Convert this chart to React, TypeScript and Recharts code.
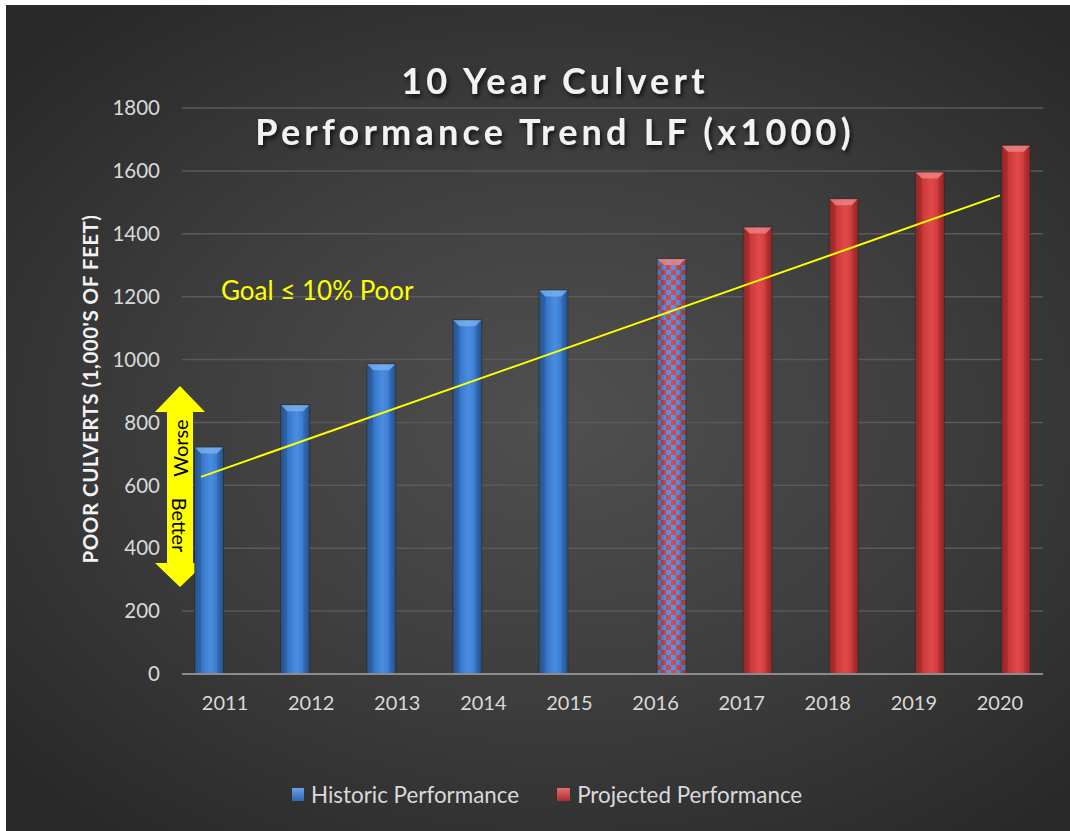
import React from 'react';
import { ComposedChart, Bar, Line, XAxis, YAxis, CartesianGrid, Legend, Customized } from 'recharts';

const years = ['2011', '2012', '2013', '2014', '2015', '2016', '2017', '2018', '2019', '2020'];
const historic = [720, 855, 985, 1125, 1220, null, null, null, null, null];
const projected = [null, null, null, null, null, 1320, 1420, 1510, 1595, 1680];
const yTicks = [0, 200, 400, 600, 800, 1000, 1200, 1400, 1600, 1800];
const trendX = [0.22, 9.5];
const trendY = [627, 1522];
const checkeredYear = '2016';

const data = years.map((y, i) => ({ year: y, historic: historic[i], projected: projected[i] }));
const trendData = trendX.map((x, i) => ({ tx: x, ty: trendY[i] }));

const FONT = 'Lato, "Open Sans", sans-serif';

const palette: Record<string, { edge: string; mid: string; light: string; bevel: string }> = {
  blue: { edge: '#2a5c9e', mid: '#3a7bd0', light: '#4a8ee0', bevel: '#7fb4f0' },
  red: { edge: '#a52a2a', mid: '#d23b3b', light: '#e04a4a', bevel: '#f08a8a' },
};

const BarShape = (props: any) => {
  const { x, y, width, height, payload, kind } = props;
  if (!height || height <= 0) return null;
  const id = kind === 'historic' ? 'gBlue' : 'gRed';
  const p = kind === 'historic' ? palette.blue : palette.red;
  const checker = kind === 'projected' && payload && payload.year === checkeredYear;
  const b = Math.min(6, width / 4);
  return (
    <g>
      <rect x={x - 1} y={y - 1} width={width + 2} height={height + 1} fill="#2a2a2a" opacity={0.6} />
      <rect x={x} y={y} width={width} height={height} fill={checker ? 'url(#checker)' : `url(#${id})`} />
      {checker && <rect x={x} y={y} width={width} height={height} fill="url(#gShade)" />}
      <polygon points={`${x},${y} ${x + width},${y} ${x + width - b},${y + b} ${x + b},${y + b}`} fill={p.bevel} opacity={0.75} />
      <polygon points={`${x},${y} ${x + b},${y + b} ${x + b},${y + height} ${x},${y + height}`} fill="#000" opacity={0.1} />
      <polygon points={`${x + width},${y} ${x + width - b},${y + b} ${x + width - b},${y + height} ${x + width},${y + height}`} fill="#000" opacity={0.1} />
    </g>
  );
};

const Defs = () => (
  <defs>
    <linearGradient id="gBlue" x1="0" y1="0" x2="1" y2="0">
      <stop offset="0%" stopColor={palette.blue.edge} />
      <stop offset="30%" stopColor={palette.blue.mid} />
      <stop offset="55%" stopColor={palette.blue.light} />
      <stop offset="80%" stopColor={palette.blue.mid} />
      <stop offset="100%" stopColor={palette.blue.edge} />
    </linearGradient>
    <linearGradient id="gRed" x1="0" y1="0" x2="1" y2="0">
      <stop offset="0%" stopColor={palette.red.edge} />
      <stop offset="30%" stopColor={palette.red.mid} />
      <stop offset="55%" stopColor={palette.red.light} />
      <stop offset="80%" stopColor={palette.red.mid} />
      <stop offset="100%" stopColor={palette.red.edge} />
    </linearGradient>
    <linearGradient id="gShade" x1="0" y1="0" x2="1" y2="0">
      <stop offset="0%" stopColor="#000" stopOpacity={0.12} />
      <stop offset="50%" stopColor="#000" stopOpacity={0} />
      <stop offset="100%" stopColor="#000" stopOpacity={0.12} />
    </linearGradient>
    <pattern id="checker" x="0" y="0" width="10" height="10" patternUnits="userSpaceOnUse">
      <rect width="10" height="10" fill="#5696ee" />
      <rect width="5" height="5" fill="#d44a4a" />
      <rect x="5" y="5" width="5" height="5" fill="#d44a4a" />
    </pattern>
    <filter id="shadow" x="-10%" y="-30%" width="120%" height="160%">
      <feDropShadow dx="2" dy="3" stdDeviation="2" floodColor="#000" floodOpacity="0.7" />
    </filter>
  </defs>
);

const Annotations = () => (
  <g style={{ fontFamily: FONT }}>
    <text x={549} y={89} textAnchor="middle" fill="#f2f2f2" fontSize={36} fontWeight={700} letterSpacing={4.2} filter="url(#shadow)">
      10 Year Culvert
    </text>
    <text x={549} y={140} textAnchor="middle" fill="#f2f2f2" fontSize={36} fontWeight={700} letterSpacing={4.2} filter="url(#shadow)">
      Performance Trend LF (x1000)
    </text>
    <text x={215} y={295} fill="#ffff00" fontSize={26}>
      Goal ≤ 10% Poor
    </text>
    <text
      x={84}
      y={384}
      transform="rotate(-90 84 384)"
      textAnchor="middle"
      dominantBaseline="central"
      fill="#f2f2f2"
      fontSize={20.5}
      fontWeight={700}
      letterSpacing={0.5}
    >
      POOR CULVERTS (1,000'S OF FEET)
    </text>
    <polygon
      points="174,381 199,407 187,407 187,558 199,558 174,582 149,558 161,558 161,407 149,407"
      fill="#ffff00"
    />
    <text x={174} y={443} transform="rotate(-90 174 443)" textAnchor="middle" dominantBaseline="central" fill="#000" fontSize={20}>
      Worse
    </text>
    <text x={174} y={520} transform="rotate(90 174 520)" textAnchor="middle" dominantBaseline="central" fill="#000" fontSize={20}>
      Better
    </text>
  </g>
);

const LegendContent = () => (
  <div style={{ display: 'flex', alignItems: 'center', fontFamily: FONT, fontSize: 22.4, color: '#d9d9d9', whiteSpace: 'nowrap' }}>
    <span style={{ display: 'inline-block', width: 12, height: 13, background: 'linear-gradient(to bottom, #6aa0e8, #2f66b0)', marginRight: 7 }} />
    <span style={{ marginRight: 38 }}>Historic Performance</span>
    <span style={{ display: 'inline-block', width: 13, height: 13, background: 'linear-gradient(to bottom, #e86a6a, #a83030)', marginRight: 7 }} />
    <span>Projected Performance</span>
  </div>
);

export default function App() {
  return (
    <div style={{ position: 'absolute', left: 0, top: 0, width: 1070, height: 831, background: '#ffffff' }}>
      <div
        style={{
          position: 'absolute',
          left: 6,
          top: 5,
          width: 1064,
          height: 826,
          background: 'radial-gradient(ellipse 70% 65% at 52% 50%, #505050 0%, #3e3e3e 50%, #282828 100%)',
        }}
      >
        <ComposedChart width={1064} height={826} data={data} margin={{ top: 103, right: 27, left: 0, bottom: 0 }} barSize={28} barGap={4}>
          <Customized component={Defs} />
          <CartesianGrid vertical={false} stroke="#5a5a5a" strokeWidth={1.5} />
          <XAxis
            dataKey="year"
            height={157}
            tickLine={false}
            axisLine={{ stroke: '#8c8c8c', strokeWidth: 2 }}
            tickSize={0}
            tickMargin={22}
            tick={{ fill: '#d9d9d9', fontSize: 20, fontFamily: FONT }}
            interval={0}
          />
          <XAxis xAxisId="trend" dataKey="tx" type="number" domain={[0, 10]} allowDataOverflow hide />
          <YAxis
            width={176}
            domain={[0, 1800]}
            ticks={yTicks}
            interval={0}
            axisLine={false}
            tickLine={false}
            tickSize={0}
            tickMargin={22}
            tick={{ fill: '#d9d9d9', fontSize: 20.5, fontFamily: FONT }}
          />
          <Bar dataKey="historic" name="Historic Performance" isAnimationActive={false} shape={(p: any) => <BarShape {...p} kind="historic" />} />
          <Bar dataKey="projected" name="Projected Performance" isAnimationActive={false} shape={(p: any) => <BarShape {...p} kind="projected" />} />
          <Line
            xAxisId="trend"
            data={trendData}
            dataKey="ty"
            type="linear"
            stroke="#ffff00"
            strokeWidth={2}
            dot={false}
            activeDot={false}
            legendType="none"
            isAnimationActive={false}
          />
          <Customized component={Annotations} />
          <Legend
            layout="horizontal"
            verticalAlign="middle"
            align="center"
            content={<LegendContent />}
            wrapperStyle={{ top: 776, left: 286, width: 640, height: 30 }}
          />
        </ComposedChart>
      </div>
    </div>
  );
}
